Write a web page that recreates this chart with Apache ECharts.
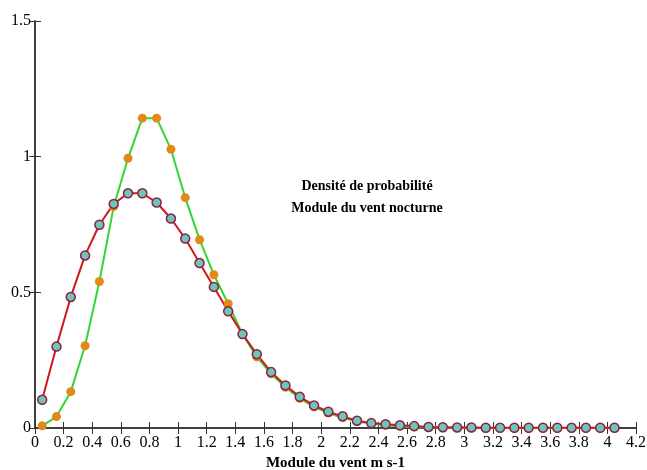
<!DOCTYPE html>
<html>
<head>
<meta charset="utf-8">
<script src="https://cdn.jsdelivr.net/npm/echarts@6/dist/echarts.min.js"></script>
<style>
  html, body { margin: 0; padding: 0; background: #fff; }
  #chart { width: 647px; height: 470px; }
</style>
</head>
<body>
<div id="chart"></div>
<script>
// bin centres (m s-1)
var vitesses = [0.05, 0.15, 0.25, 0.35, 0.45, 0.55, 0.65, 0.75, 0.85, 0.95,
    1.05, 1.15, 1.25, 1.35, 1.45, 1.55, 1.65, 1.75, 1.85, 1.95,
    2.05, 2.15, 2.25, 2.35, 2.45, 2.55, 2.65, 2.75, 2.85, 2.95,
    3.05, 3.15, 3.25, 3.35, 3.45, 3.55, 3.65, 3.75, 3.85, 3.95, 4.05];

// observed density (red, teal markers)
var densiteRouge = [0.104, 0.30, 0.483, 0.636, 0.749, 0.826, 0.865, 0.865, 0.831, 0.772,
    0.698, 0.608, 0.52, 0.43, 0.346, 0.272, 0.206, 0.157, 0.115, 0.083,
    0.060, 0.043, 0.027, 0.018, 0.014, 0.010, 0.007, 0.004, 0.003, 0.002,
    0.002, 0.001, 0.001, 0.001, 0.001, 0.001, 0.001, 0.001, 0.001, 0.001, 0.001];

// fitted density (green, orange markers)
var densiteVerte = [0.008, 0.042, 0.134, 0.303, 0.54, 0.816, 0.994, 1.142, 1.142, 1.027,
    0.849, 0.694, 0.565, 0.458, 0.346, 0.262, 0.200, 0.150, 0.109, 0.078,
    0.055, 0.038, 0.025, 0.016, 0.010, 0.006, 0.003, 0.002, 0.001, 0.001,
    0.001, 0.000, 0.000, 0.000, 0.000, 0.000, 0.000, 0.000, 0.000, 0.000, 0.000];

var titreLignes = ['Densité de probabilité', 'Module du vent nocturne'];
var nomAxeX = 'Module du vent m s-1';

function paires(xs, ys) {
    var out = [];
    for (var i = 0; i < xs.length; i++) out.push([xs[i], ys[i]]);
    return out;
}

var police = '"Liberation Serif", "DejaVu Serif", serif';
var trait = { color: '#333', width: 1.5 };

var myChart = echarts.init(document.getElementById('chart'));

var option = {
    backgroundColor: '#fff',
    animation: false,
    title: {
        text: titreLignes.join('\n'),
        left: 362,
        top: 170,
        textAlign: 'center',
        textStyle: {
            fontFamily: police,
            fontWeight: 'bold',
            fontSize: 14,
            lineHeight: 22,
            color: '#000'
        }
    },
    grid: { left: 35, top: 21, right: 11, bottom: 42, outerBoundsMode: 'none', containLabel: false },
    xAxis: [{
        type: 'value',
        min: 0,
        max: 4.2,
        interval: 0.2,
        name: nomAxeX,
        nameLocation: 'middle',
        nameGap: 25,
        nameTextStyle: { fontFamily: police, fontWeight: 'bold', fontSize: 15, color: '#000' },
        axisLine: { lineStyle: trait },
        axisTick: { inside: true, length: 6, lineStyle: { color: '#333' } },
        axisLabel: {
            fontFamily: police, fontSize: 16, color: '#000', margin: 7,
            formatter: function (v) { return +v.toFixed(1) + ''; }
        },
        splitLine: { show: false }
    }, {
        type: 'value',
        position: 'top',
        min: 0,
        max: 4.2,
        interval: 0.2,
        axisLine: { lineStyle: trait },
        axisTick: { inside: true, length: 6, lineStyle: { color: '#333' } },
        axisLabel: { show: false },
        splitLine: { show: false }
    }],
    yAxis: [{
        type: 'value',
        min: 0,
        max: 1.5,
        interval: 0.5,
        axisLine: { show: true, lineStyle: trait },
        axisTick: { show: true, inside: true, length: 6, lineStyle: { color: '#333' } },
        axisLabel: { fontFamily: police, fontSize: 16, color: '#000', margin: 4 },
        splitLine: { show: false }
    }, {
        type: 'value',
        position: 'right',
        min: 0,
        max: 1.5,
        interval: 0.5,
        axisLine: { show: true, lineStyle: trait },
        axisTick: { show: true, inside: true, length: 6, lineStyle: { color: '#333' } },
        axisLabel: { show: false },
        splitLine: { show: false }
    }],
    series: [{
        name: 'ajustement',
        type: 'line',
        data: paires(vitesses, densiteVerte),
        symbol: 'circle',
        symbolSize: 9,
        lineStyle: { color: '#33d633', width: 2 },
        itemStyle: { color: '#e08a1a', borderWidth: 0 }
    }, {
        name: 'observé',
        type: 'line',
        data: paires(vitesses, densiteRouge),
        symbol: 'circle',
        symbolSize: 9,
        lineStyle: { color: '#cc1a22', width: 2 },
        itemStyle: { color: '#6cc7bb', borderColor: '#8e1f45', borderWidth: 1.5 }
    }]
};

myChart.setOption(option);
</script>
</body>
</html>
